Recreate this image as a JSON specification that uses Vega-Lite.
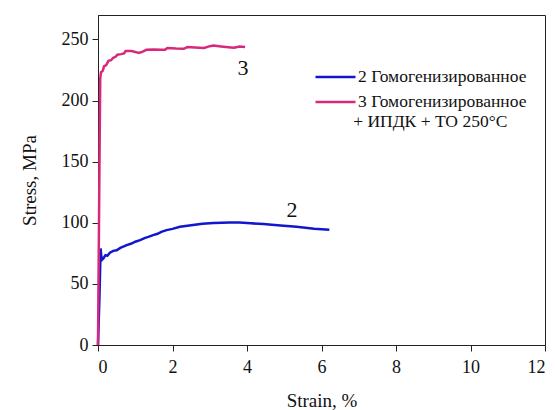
{
  "$schema": "https://vega.github.io/schema/vega-lite/v6.json",
  "width": 447,
  "height": 330,
  "autosize": {"type": "none"},
  "padding": {"left": 98, "top": 15, "right": 10, "bottom": 65},
  "background": "white",
  "config": {
    "view": {"stroke": "#222", "strokeWidth": 1},
    "font": "Liberation Serif, DejaVu Serif, serif",
    "axis": {"domainColor": "#222", "tickColor": "#222", "labelColor": "#111", "titleColor": "#111", "labelFont": "Liberation Serif, DejaVu Serif, serif", "titleFont": "Liberation Serif, DejaVu Serif, serif", "titleFontWeight": "normal", "grid": false}
  },
  "datasets": {
    "curves": [
      {"series": "2 Гомогенизированное", "i": 0, "strain": 0, "stress": 0},
      {"series": "2 Гомогенизированное", "i": 1, "strain": 0.04, "stress": 40},
      {"series": "2 Гомогенизированное", "i": 2, "strain": 0.07, "stress": 79},
      {"series": "2 Гомогенизированное", "i": 3, "strain": 0.09, "stress": 72},
      {"series": "2 Гомогенизированное", "i": 4, "strain": 0.1, "stress": 69.5},
      {"series": "2 Гомогенизированное", "i": 5, "strain": 0.15, "stress": 71},
      {"series": "2 Гомогенизированное", "i": 6, "strain": 0.2, "stress": 73.5},
      {"series": "2 Гомогенизированное", "i": 7, "strain": 0.25, "stress": 73},
      {"series": "2 Гомогенизированное", "i": 8, "strain": 0.32, "stress": 75.5},
      {"series": "2 Гомогенизированное", "i": 9, "strain": 0.41, "stress": 77},
      {"series": "2 Гомогенизированное", "i": 10, "strain": 0.5, "stress": 77.5},
      {"series": "2 Гомогенизированное", "i": 11, "strain": 0.6, "stress": 79.5},
      {"series": "2 Гомогенизированное", "i": 12, "strain": 0.77, "stress": 81.7},
      {"series": "2 Гомогенизированное", "i": 13, "strain": 0.9, "stress": 83},
      {"series": "2 Гомогенизированное", "i": 14, "strain": 1.0, "stress": 84.5},
      {"series": "2 Гомогенизированное", "i": 15, "strain": 1.13, "stress": 85.8},
      {"series": "2 Гомогенизированное", "i": 16, "strain": 1.25, "stress": 87.5},
      {"series": "2 Гомогенизированное", "i": 17, "strain": 1.35, "stress": 88.5},
      {"series": "2 Гомогенизированное", "i": 18, "strain": 1.48, "stress": 89.9},
      {"series": "2 Гомогенизированное", "i": 19, "strain": 1.6, "stress": 91},
      {"series": "2 Гомогенизированное", "i": 20, "strain": 1.7, "stress": 92.5},
      {"series": "2 Гомогенизированное", "i": 21, "strain": 1.84, "stress": 94},
      {"series": "2 Гомогенизированное", "i": 22, "strain": 2.0, "stress": 95},
      {"series": "2 Гомогенизированное", "i": 23, "strain": 2.2, "stress": 96.7},
      {"series": "2 Гомогенизированное", "i": 24, "strain": 2.5, "stress": 98},
      {"series": "2 Гомогенизированное", "i": 25, "strain": 2.8, "stress": 99.2},
      {"series": "2 Гомогенизированное", "i": 26, "strain": 3.1, "stress": 99.8},
      {"series": "2 Гомогенизированное", "i": 27, "strain": 3.54, "stress": 100.3},
      {"series": "2 Гомогенизированное", "i": 28, "strain": 3.8, "stress": 100.2},
      {"series": "2 Гомогенизированное", "i": 29, "strain": 4.1, "stress": 99.6},
      {"series": "2 Гомогенизированное", "i": 30, "strain": 4.44, "stress": 98.9},
      {"series": "2 Гомогенизированное", "i": 31, "strain": 4.9, "stress": 97.8},
      {"series": "2 Гомогенизированное", "i": 32, "strain": 5.33, "stress": 96.7},
      {"series": "2 Гомогенизированное", "i": 33, "strain": 5.8, "stress": 95.2},
      {"series": "2 Гомогенизированное", "i": 34, "strain": 6.21, "stress": 94.2},
      {"series": "3 Гомогенизированное", "i": 0, "strain": 0, "stress": 0},
      {"series": "3 Гомогенизированное", "i": 1, "strain": 0.04, "stress": 150},
      {"series": "3 Гомогенизированное", "i": 2, "strain": 0.06, "stress": 218},
      {"series": "3 Гомогенизированное", "i": 3, "strain": 0.08, "stress": 223},
      {"series": "3 Гомогенизированное", "i": 4, "strain": 0.13, "stress": 224.5},
      {"series": "3 Гомогенизированное", "i": 5, "strain": 0.16, "stress": 228},
      {"series": "3 Гомогенизированное", "i": 6, "strain": 0.22, "stress": 229},
      {"series": "3 Гомогенизированное", "i": 7, "strain": 0.28, "stress": 232.5},
      {"series": "3 Гомогенизированное", "i": 8, "strain": 0.35, "stress": 233},
      {"series": "3 Гомогенизированное", "i": 9, "strain": 0.41, "stress": 235},
      {"series": "3 Гомогенизированное", "i": 10, "strain": 0.48, "stress": 236},
      {"series": "3 Гомогенизированное", "i": 11, "strain": 0.52, "stress": 237.5},
      {"series": "3 Гомогенизированное", "i": 12, "strain": 0.62, "stress": 238},
      {"series": "3 Гомогенизированное", "i": 13, "strain": 0.7, "stress": 238.5},
      {"series": "3 Гомогенизированное", "i": 14, "strain": 0.74, "stress": 240.5},
      {"series": "3 Гомогенизированное", "i": 15, "strain": 0.9, "stress": 240.5},
      {"series": "3 Гомогенизированное", "i": 16, "strain": 1.1, "stress": 239},
      {"series": "3 Гомогенизированное", "i": 17, "strain": 1.2, "stress": 240},
      {"series": "3 Гомогенизированное", "i": 18, "strain": 1.3, "stress": 241.5},
      {"series": "3 Гомогенизированное", "i": 19, "strain": 1.5, "stress": 241.8},
      {"series": "3 Гомогенизированное", "i": 20, "strain": 1.7, "stress": 241.5},
      {"series": "3 Гомогенизированное", "i": 21, "strain": 1.8, "stress": 241.6},
      {"series": "3 Гомогенизированное", "i": 22, "strain": 1.86, "stress": 243},
      {"series": "3 Гомогенизированное", "i": 23, "strain": 2.1, "stress": 242.5},
      {"series": "3 Гомогенизированное", "i": 24, "strain": 2.3, "stress": 242.3},
      {"series": "3 Гомогенизированное", "i": 25, "strain": 2.4, "stress": 243.8},
      {"series": "3 Гомогенизированное", "i": 26, "strain": 2.6, "stress": 243.5},
      {"series": "3 Гомогенизированное", "i": 27, "strain": 2.85, "stress": 243},
      {"series": "3 Гомогенизированное", "i": 28, "strain": 3.0, "stress": 244.5},
      {"series": "3 Гомогенизированное", "i": 29, "strain": 3.1, "stress": 245},
      {"series": "3 Гомогенизированное", "i": 30, "strain": 3.3, "stress": 244.3},
      {"series": "3 Гомогенизированное", "i": 31, "strain": 3.5, "stress": 243.7},
      {"series": "3 Гомогенизированное", "i": 32, "strain": 3.65, "stress": 243.2},
      {"series": "3 Гомогенизированное", "i": 33, "strain": 3.8, "stress": 244.3},
      {"series": "3 Гомогенизированное", "i": 34, "strain": 3.95, "stress": 243.8}
    ],
    "curveLabels": [
      {"strain": 3.89, "stress": 226.6, "text": "3"},
      {"strain": 5.21, "stress": 110.5, "text": "2"}
    ],
    "legendNote": [
      {"strain": 6.85, "stress": 182.5, "text": "+ ИПДК + ТО 250°C"}
    ]
  },
  "layer": [
    {
      "data": {"name": "curves"},
      "mark": {"type": "line", "strokeWidth": 2.5},
      "encoding": {
        "x": {
          "field": "strain", "type": "quantitative",
          "scale": {"domain": [0, 12], "nice": false},
          "axis": {
            "title": "Strain, %", "titleFontSize": 19, "titlePadding": 15,
            "values": [0,1,2,3,4,5,6,7,8,9,10,11,12],
            "labelExpr": "datum.value % 2 == 0 ? datum.label : ''",
            "labelFontSize": 18, "labelPadding": 7,
            "tickSize": {"condition": {"test": "datum.value % 2 == 0", "value": 6}, "value": 3}
          }
        },
        "y": {
          "field": "stress", "type": "quantitative",
          "scale": {"domain": [0, 270], "nice": false},
          "axis": {
            "title": "Stress, MPa", "titleFontSize": 19, "titlePadding": 22,
            "values": [0,25,50,75,100,125,150,175,200,225,250],
            "labelExpr": "datum.value % 50 == 0 ? datum.label : ''",
            "labelFontSize": 18, "labelPadding": 4,
            "tickSize": {"condition": {"test": "datum.value % 50 == 0", "value": 6}, "value": 3}
          }
        },
        "order": {"field": "i", "type": "quantitative"},
        "color": {
          "field": "series", "type": "nominal",
          "scale": {"domain": ["2 Гомогенизированное", "3 Гомогенизированное"], "range": ["#1216cc", "#d8287c"]},
          "legend": {
            "title": null, "orient": "none", "legendX": 216, "legendY": 54,
            "symbolType": "stroke", "symbolSize": 1600, "symbolStrokeWidth": 2.5,
            "clipHeight": 16,
            "labelFont": "Liberation Serif, DejaVu Serif, serif", "labelFontSize": 17.5, "labelColor": "#111",
            "labelOffset": 1, "labelLimit": 400, "rowPadding": 7, "padding": 0
          }
        }
      }
    },
    {
      "data": {"name": "curveLabels"},
      "mark": {"type": "text", "font": "Liberation Serif, DejaVu Serif, serif", "fontSize": 22, "color": "#111", "baseline": "middle", "align": "center"},
      "encoding": {
        "x": {"field": "strain", "type": "quantitative"},
        "y": {"field": "stress", "type": "quantitative"},
        "text": {"field": "text"}
      }
    },
    {
      "data": {"name": "legendNote"},
      "mark": {"type": "text", "font": "Liberation Serif, DejaVu Serif, serif", "fontSize": 17.5, "color": "#111", "baseline": "middle", "align": "left"},
      "encoding": {
        "x": {"field": "strain", "type": "quantitative"},
        "y": {"field": "stress", "type": "quantitative"},
        "text": {"field": "text"}
      }
    }
  ]
}
